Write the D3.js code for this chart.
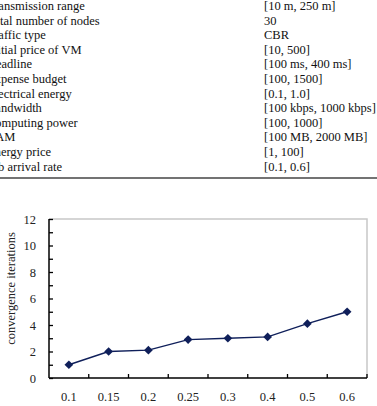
<!DOCTYPE html>
<html>
<head>
<meta charset="utf-8">
<script src="https://cdn.jsdelivr.net/npm/d3@7"></script>
<style>
    body { margin: 0; background: #fff; }
    svg { display: block; font-family: "Liberation Serif", "Times New Roman", serif; }
</style>
</head>
<body>
<svg id="chart"></svg>
<script>
const paramNames = [
    "Transmission range", "Total number of nodes", "Traffic type", "Initial price of VM",
    "Deadline", "Expense budget", "Electrical energy", "Bandwidth",
    "Computing power", "RAM", "Energy price", "Job arrival rate"
];
const paramValues = [
    "[10 m, 250 m]", "30", "CBR", "[10, 500]",
    "[100 ms, 400 ms]", "[100, 1500]", "[0.1, 1.0]", "[100 kbps, 1000 kbps]",
    "[100, 1000]", "[100 MB, 2000 MB]", "[1, 100]", "[0.1, 0.6]"
];
const arrivalRates = ["0.1", "0.15", "0.2", "0.25", "0.3", "0.4", "0.5", "0.6"];
const iterations = [1, 2, 2.1, 2.9, 3, 3.1, 4.1, 5];
const yTicks = [0, 2, 4, 6, 8, 10, 12];

class LinePlot {
    constructor(svg, width = 377, height = 406) {
        this.svg = d3.select(svg).attr("width", width).attr("height", height);
        this.width = width;
        this.height = height;
        this.plot = { left: 49, right: 367, top: 219, bottom: 378 };
        this.ink = "#0f1f5a";
    }

    initialize() {
        this.addTable();
        this.addAxes();
        this.addSeries();
    }

    addTable() {
        const rows = this.svg.append("g").attr("class", "table")
            .selectAll("g")
            .data(paramNames)
            .join("g")
            .attr("transform", (d, i) => `translate(0, ${10 + i * 14.6})`)
            .style("font-size", "12.5px")
            .attr("fill", "#111");

        // the left column is cropped in the source image
        rows.append("text").attr("x", -13).text(d => d);
        rows.append("text").attr("x", 264).text((d, i) => paramValues[i]);

        this.svg.append("line")
            .attr("x1", 0).attr("x2", this.width)
            .attr("y1", 178).attr("y2", 178)
            .attr("stroke", "#444").attr("stroke-width", 1.5);
    }

    addAxes() {
        const p = this.plot;
        this.x = d3.scaleBand().domain(arrivalRates).range([p.left, p.right]);
        this.y = d3.scaleLinear().domain([0, 12]).range([p.bottom, p.top]);

        // light frame on top and right
        this.svg.append("path")
            .attr("d", `M${p.left},${p.top}H${p.right}V${p.bottom}`)
            .attr("fill", "none").attr("stroke", "#c8c8c8").attr("stroke-width", 1.5);

        const yAxis = this.svg.append("g")
            .attr("transform", `translate(${p.left},0)`)
            .call(d3.axisLeft(this.y)
                .tickValues(d3.range(0, 13))
                .tickSize(-4)
                .tickPadding(13)
                .tickFormat(d => yTicks.includes(d) ? d : ""));
        yAxis.select(".domain").attr("d", `M0,${p.top}V${p.bottom}`);

        const xAxis = this.svg.append("g")
            .attr("transform", `translate(0,${p.bottom})`)
            .call(d3.axisBottom(this.x).tickSize(0).tickPadding(14));
        xAxis.select(".domain").attr("d", `M${p.left},0H${p.right}`);

        xAxis.selectAll(".edge")
            .data(arrivalRates)
            .join("line")
            .attr("class", "edge")
            .attr("x1", d => this.x(d) + this.x.bandwidth())
            .attr("x2", d => this.x(d) + this.x.bandwidth())
            .attr("y1", 0).attr("y2", -4)
            .attr("stroke", "#000").attr("stroke-width", 1.3);

        [xAxis, yAxis].forEach(a => {
            a.select(".domain").attr("stroke", "#000").attr("stroke-width", 1.5);
            a.selectAll(".tick line").attr("stroke", "#000").attr("stroke-width", 1.3);
            a.selectAll("text")
                .style("font-family", "Liberation Serif, serif")
                .style("font-size", "12.5px")
                .attr("fill", "#222");
        });

        this.svg.append("text")
            .attr("transform", `translate(15, ${(p.top + p.bottom) / 2-10}) rotate(-90)`)
            .attr("text-anchor", "middle")
            .style("font-size", "12.5px")
            .attr("fill", "#222")
            .text("convergence iterations");
    }

    addSeries() {
        const cx = d => this.x(d) + this.x.bandwidth() / 2;
        const points = arrivalRates.map((r, i) => [cx(r), this.y(iterations[i])]);

        this.svg.append("path")
            .attr("d", d3.line()(points))
            .attr("fill", "none")
            .attr("stroke", this.ink)
            .attr("stroke-width", 1.4);

        this.svg.append("g")
            .selectAll("path")
            .data(points)
            .join("path")
            .attr("d", d3.symbol(d3.symbolSquare, 38))
            .attr("transform", d => `translate(${d[0]},${d[1]}) rotate(45)`)
            .attr("fill", this.ink);
    }
}

new LinePlot(document.getElementById("chart")).initialize();
</script>
</body>
</html>
